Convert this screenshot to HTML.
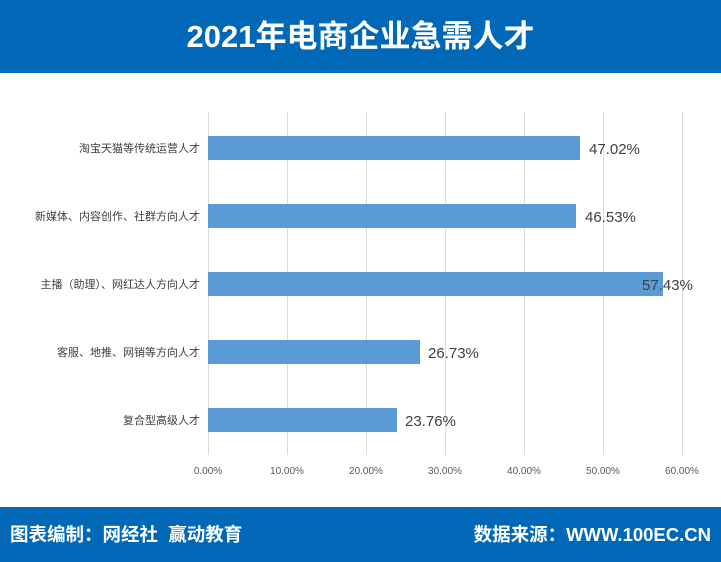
<!DOCTYPE html>
<html><head><meta charset="utf-8"><style>
body{margin:0;width:721px;height:562px;background:#fff;position:relative;overflow:hidden;font-family:"Liberation Sans","Noto Sans CJK SC",sans-serif}
.hd{position:absolute;left:0;top:0;width:721px;height:73px;background:#0068b7;color:#fff;font-size:31px;font-weight:bold;text-align:center;line-height:73px}
.ft{position:absolute;left:0;top:507px;width:721px;height:55px;background:#0068b7;color:#fff;font-size:18.5px;font-weight:bold;line-height:55px}
</style></head><body>
<div class="hd">2021年电商企业急需人才</div>
<svg width="721" height="562" style="position:absolute;left:0;top:0" font-family="Liberation Sans, Noto Sans CJK SC, sans-serif">
<g stroke="#d9d9d9" stroke-width="1">
<line x1="208.5" y1="112" x2="208.5" y2="455"/><line x1="287.5" y1="112" x2="287.5" y2="455"/><line x1="366.5" y1="112" x2="366.5" y2="455"/><line x1="445.5" y1="112" x2="445.5" y2="455"/><line x1="524.5" y1="112" x2="524.5" y2="455"/><line x1="603.5" y1="112" x2="603.5" y2="455"/><line x1="682.5" y1="112" x2="682.5" y2="455"/>
</g>
<g fill="#5b9bd5">
<rect x="208" y="136" width="372" height="24"/>
<rect x="208" y="204" width="368" height="24"/>
<rect x="208" y="272" width="455" height="24"/>
<rect x="208" y="340" width="212" height="24"/>
<rect x="208" y="408" width="189" height="24"/>
</g>
<g font-size="15" fill="#404040">
<text x="589" y="154">47.02%</text><text x="585" y="222">46.53%</text><text x="642" y="290">57.43%</text><text x="428" y="358">26.73%</text><text x="405" y="426">23.76%</text>
</g>
<g font-size="11" fill="#404040" text-anchor="end">
<text x="200" y="152">淘宝天猫等传统运营人才</text><text x="200" y="220">新媒体、内容创作、社群方向人才</text><text x="200" y="288">主播（助理）、网红达人方向人才</text><text x="200" y="356">客服、地推、网销等方向人才</text><text x="200" y="424">复合型高级人才</text>
</g>
<g font-size="10" fill="#595959" text-anchor="middle">
<text x="208" y="474">0.00%</text><text x="287" y="474">10.00%</text><text x="366" y="474">20.00%</text><text x="445" y="474">30.00%</text><text x="524" y="474">40.00%</text><text x="603" y="474">50.00%</text><text x="682" y="474">60.00%</text>
</g>
</svg>
<div class="ft"><span style="position:absolute;left:10px">图表编制：网经社&nbsp;&nbsp;赢动教育</span><span style="position:absolute;right:10px">数据来源：WWW.100EC.CN</span></div>
</body></html>
